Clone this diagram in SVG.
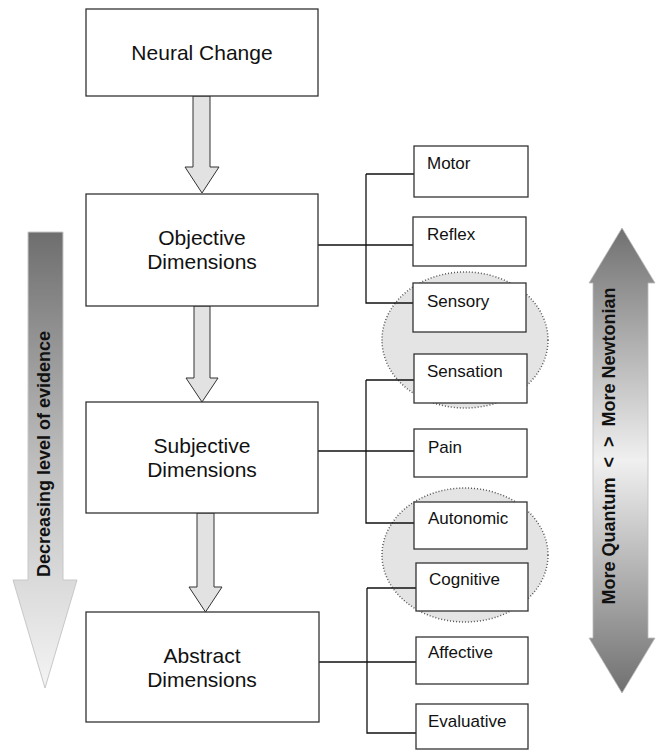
<svg xmlns="http://www.w3.org/2000/svg" width="657" height="751" viewBox="0 0 657 751">
<style>
.box{fill:#fff;stroke:#333;stroke-width:1.3}
.big{font-family:"Liberation Sans",Arial,sans-serif;font-size:21px;fill:#111;text-anchor:middle}
.sm{font-family:"Liberation Sans",Arial,sans-serif;font-size:17px;fill:#111}
.bold{font-family:"Liberation Sans",Arial,sans-serif;font-size:18px;font-weight:bold;fill:#111;text-anchor:middle}
.conn{fill:none;stroke:#111;stroke-width:1.3}
.blk{fill:#e2e2e2;stroke:#333;stroke-width:1}
.ell{fill:#e4e4e4;stroke:#555;stroke-width:1.5;stroke-dasharray:1 2}
</style>
<defs>
<linearGradient id="gl" x1="0" y1="0" x2="0" y2="1">
<stop offset="0" stop-color="#6e6e6e"/>
<stop offset="0.5" stop-color="#bdbdbd"/>
<stop offset="1" stop-color="#f4f4f4"/>
</linearGradient>
<linearGradient id="gr" x1="0" y1="0" x2="0" y2="1">
<stop offset="0" stop-color="#707070"/>
<stop offset="0.5" stop-color="#f0f0f0"/>
<stop offset="1" stop-color="#707070"/>
</linearGradient>
</defs>

<g id="ellipses">
<ellipse class="ell" cx="465" cy="340" rx="83" ry="68"/>
<ellipse class="ell" cx="465" cy="555" rx="83" ry="67"/>
</g>

<g id="connectors">
<polygon class="blk" points="193,96 210,96 210,167 219,167 202,193 185,167 193,167"/>
<polygon class="blk" points="194,306 210,306 210,378 218,378 202,402 186,378 194,378"/>
<polygon class="blk" points="197,513 214,513 214,587 222,587 205.5,612 189,587 197,587"/>
<path class="conn" d="M318,245 H413 M366,174 H414 M366,174 V303 H413"/>
<path class="conn" d="M318,451 H414 M366,380 H414 M366,380 V523 H414"/>
<path class="conn" d="M319,662 H416 M367,588 H416 M367,588 V733 H416"/>
</g>

<g id="left-arrow">
<polygon points="28,232 63,232 63,580 77,580 45,688 13,580 28,580" fill="url(#gl)" stroke="#c8c8c8" stroke-width="1"/>
<text class="bold" transform="translate(50,454) rotate(-90)">Decreasing level of evidence</text>
</g>

<g id="right-arrow">
<polygon points="622,228 655,283 648,283 648,638 655,638 622,693 589,638 593,638 593,283 589,283" fill="url(#gr)" stroke="#bbb" stroke-width="0.8"/>
<text class="bold" xml:space="preserve" transform="translate(615,446) rotate(-90)">More Quantum  &lt;  &gt;  More Newtonian</text>
</g>

<g id="neural"><rect class="box" x="86" y="9" width="232" height="87"/><text class="big" x="202" y="60">Neural Change</text></g>
<g id="objective"><rect class="box" x="86" y="194" width="232" height="112"/><text class="big" x="202" y="245">Objective</text><text class="big" x="202" y="269">Dimensions</text></g>
<g id="subjective"><rect class="box" x="86" y="402" width="232" height="111"/><text class="big" x="202" y="453">Subjective</text><text class="big" x="202" y="477">Dimensions</text></g>
<g id="abstract"><rect class="box" x="86" y="612" width="233" height="110"/><text class="big" x="202" y="663">Abstract</text><text class="big" x="202" y="687">Dimensions</text></g>

<g id="motor"><rect class="box" x="414" y="146" width="114" height="51"/><text class="sm" x="427" y="169">Motor</text></g>
<g id="reflex"><rect class="box" x="413" y="217" width="113" height="49"/><text class="sm" x="427" y="240">Reflex</text></g>
<g id="sensory"><rect class="box" x="413" y="283" width="113" height="49"/><text class="sm" x="427" y="307">Sensory</text></g>
<g id="sensation"><rect class="box" x="414" y="354" width="113" height="49"/><text class="sm" x="427" y="377">Sensation</text></g>
<g id="pain"><rect class="box" x="414" y="429" width="113" height="48"/><text class="sm" x="428" y="453">Pain</text></g>
<g id="autonomic"><rect class="box" x="414" y="502" width="113" height="47"/><text class="sm" x="428" y="524">Autonomic</text></g>
<g id="cognitive"><rect class="box" x="416" y="563" width="112" height="48"/><text class="sm" x="429" y="585">Cognitive</text></g>
<g id="affective"><rect class="box" x="416" y="637" width="112" height="47"/><text class="sm" x="428" y="658">Affective</text></g>
<g id="evaluative"><rect class="box" x="416" y="704" width="112" height="45"/><text class="sm" x="428" y="727">Evaluative</text></g>
</svg>
